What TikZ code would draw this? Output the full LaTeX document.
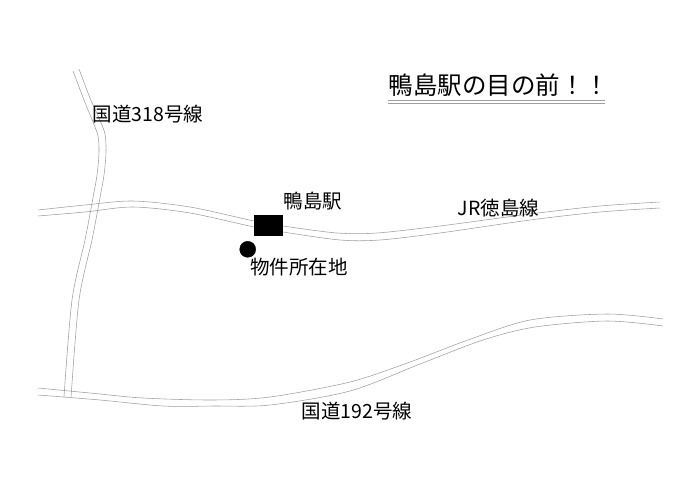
\documentclass[tikz,border=0pt]{standalone}
\usepackage{fontspec}
\setmainfont{Noto Sans CJK JP}
\usetikzlibrary{positioning}
\tikzset{
    road/.style={draw=black!38, line width=0.55pt},
    maplabel/.style={inner sep=0pt, font=\fontsize{19.5}{20}\selectfont},
}

\begin{document}
\begin{tikzpicture}[x=1pt, y=-1pt]
    \useasboundingbox (0,0) rectangle (700,495);

    % national road 318
    \draw[road] plot[smooth] coordinates {(73,71) (84,100) (93,122) (98,136) (99,152) (97,175) (92,203) (85,240) (72,300) (64,397)};
    \draw[road] plot[smooth] coordinates {(79,69) (90,98) (99,118) (105,134) (106,152) (104,175) (99,203) (92,240) (79,300) (71,398)};

    % railway
    \draw[road] plot[smooth] coordinates {(38,210) (85,205) (133,201) (190,207) (254,221) (283,226) (337,233) (377,233) (440,226) (530,214) (600,206) (660,202)};
    \draw[road] plot[smooth] coordinates {(38,216) (85,212) (133,207) (190,213) (254,227) (283,232) (340,240) (380,240) (440,233) (530,220) (600,212) (660,208)};

    % national road 192
    \draw[road] plot[smooth] coordinates {(38,388) (90,393) (143,398) (213,400) (270,397) (350,382) (410,362) (468,340) (530,320) (607,314) (663,319)};
    \draw[road] plot[smooth] coordinates {(38,395) (100,400) (163,406) (213,406) (270,405) (350,391) (420,364) (483,340) (535,327) (607,321) (663,326)};

    \node[draw, fill, inner sep=0pt, minimum width=28pt, minimum height=20pt] (station) at (268,225) {};
    \node[draw, fill, circle, inner sep=0pt, minimum size=16pt] (site) at (247.7,249.3) {};

    \node[maplabel] (road318) at (148,114) {国道318号線};
    \node[maplabel] (stationname) at (313,201) {鴨島駅};
    \node[maplabel] (sitename) at (299,267) {物件所在地};
    \node[maplabel] (jrline) at (498.5,208) {JR徳島線};
    \node[maplabel] (road192) at (357,411) {国道192号線};
    \node[inner sep=0pt, font=\fontsize{24.5}{25}\selectfont] (title) at (499,85) {鴨島駅の目の前！！};

    \coordinate (ruleA) at (388,100.7);
    \coordinate (ruleB) at (605,100.7);
    \coordinate (ruleC) at (388,103.4);
    \coordinate (ruleD) at (605,103.4);
    \draw[road] (ruleA) -- (ruleB);
    \draw[road] (ruleC) -- (ruleD);
\end{tikzpicture}
\end{document}
